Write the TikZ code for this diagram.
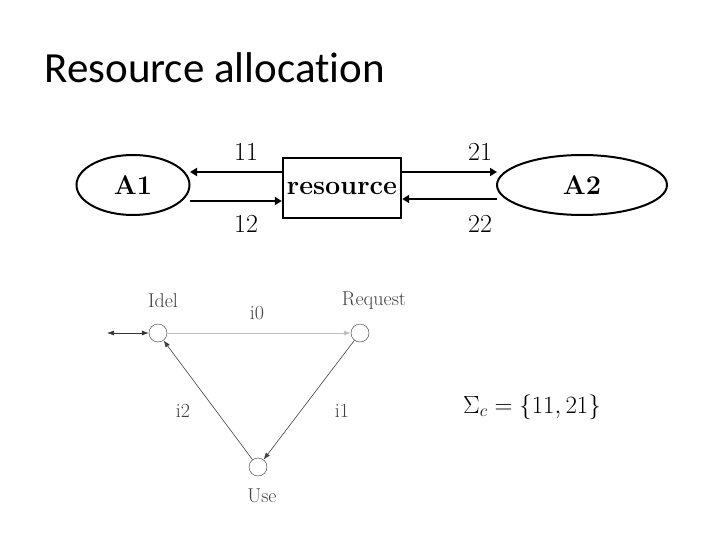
\documentclass[tikz,border=0pt]{standalone}
\usepackage{fontspec}
\newfontfamily\titlefont[Ligatures=NoCommon]{Carlito}
\usetikzlibrary{arrows.meta,shapes.geometric}
\begin{document}
\begin{tikzpicture}[x=1pt,y=-1pt,
  big/.style={font=\fontsize{26}{30}\selectfont},
  thick arr/.style={line width=2.2pt,-{Triangle[length=7pt,width=8pt]}},
  st/.style={circle,draw=black!80,minimum size=18pt,inner sep=0pt},
  lab/.style={font=\fontsize{20}{24}\selectfont,text=black!75},
  thin arr/.style={draw=black!75,line width=0.6pt,-{Latex[length=7pt,width=5pt]}}]
\useasboundingbox (0,0) rectangle (720,540);
\node[anchor=west,font=\titlefont\fontsize{43}{50}\selectfont] (title) at (41,68) {Resource allocation};
% top
\node[ellipse,draw,line width=2pt,minimum width=113pt,minimum height=60pt,font=\fontsize{27}{30}\selectfont\bfseries] (A1) at (133,185) {A1};
\node[ellipse,draw,line width=2pt,minimum width=170pt,minimum height=60pt,font=\fontsize{27}{30}\selectfont\bfseries] (A2) at (582,185) {A2};
\node[draw,line width=2.4pt,minimum width=118pt,minimum height=60pt,inner sep=1pt,font=\fontsize{27}{30}\selectfont\bfseries] (res) at (342,188) {resource};
\coordinate (a1u) at (190,172); \coordinate (a1d) at (190,201);
\coordinate (a2u) at (497,172); \coordinate (a2d) at (497,199);
\draw[thick arr] (res.west |- a1u) -- (a1u);
\draw[thick arr] (a1d) -- (res.west |- a1d);
\draw[thick arr] (res.east |- a2u) -- (a2u);
\draw[thick arr] (a2d) -- (res.east |- a2d);
\node[big] (l11) at (246,152) {11};
\node[big] (l12) at (246,224) {12};
\node[big] (l21) at (480,152) {21};
\node[big] (l22) at (480,224) {22};
% bottom
\node[st] (idel) at (158,333) {};
\node[st] (req) at (360,333) {};
\node[st] (use) at (258,467) {};
\coordinate (ext) at (107,333);
\draw[draw=black!80,line width=0.6pt,{Latex[length=7pt,width=5pt]}-{Latex[length=7pt,width=5pt]}] (ext) -- (idel);
\draw[thin arr,draw=black!25] (idel) -- (req);
\draw[thin arr] (req) -- (use);
\draw[thin arr] (use) -- (idel);
\node[lab] (tidel) at (163,301) {Idel};
\node[lab] (treq) at (374,301) {Request};
\node[lab] (ti0) at (257,313) {i0};
\node[lab] (ti1) at (342,411) {i1};
\node[lab] (ti2) at (183,411) {i2};
\node[lab] (tuse) at (262,496) {Use};
\node[font=\fontsize{26}{30}\selectfont] (sigma) at (532,407) {$\Sigma_c=\{11,21\}$};
\end{tikzpicture}
\end{document}
